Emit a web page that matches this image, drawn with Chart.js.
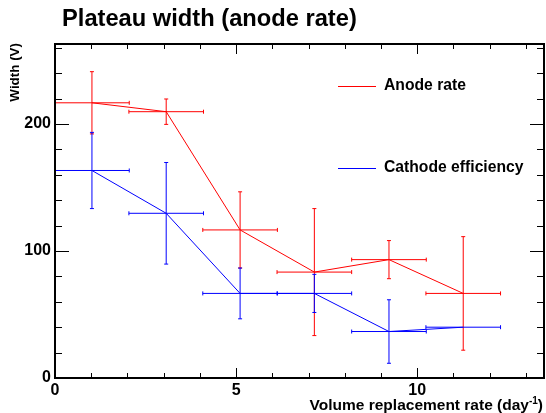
<!DOCTYPE html>
<html lang="en">
<head>
    <meta charset="UTF-8">
    <title>Plateau width (anode rate)</title>
    <script src="https://cdn.jsdelivr.net/npm/chart.js"></script>
    <style>
        body { margin: 0; background: #fff; }
        #wrap { width: 546px; height: 413px; position: relative; }
    </style>
</head>
<body>
    <div id="wrap"><canvas id="plateauChart"></canvas></div>
    <script>

        // Volume replacement rate bins (day^-1) and their half widths
        const rates = [1.02, 3.07, 5.11, 7.16, 9.22, 11.27];
        const rateErr = [1.03, 1.03, 1.03, 1.03, 1.03, 1.03];

        // Plateau widths (V) with errors
        const anodeWidth = [216.7, 209.7, 116.6, 83.4, 93.2, 66.6];
        const anodeErr = [24.5, 10, 30, 50, 15, 44.7];
        const cathodeWidth = [163.4, 129.7, 66.6, 66.6, 36.6, 40];
        const cathodeErr = [30, 40, 20, 15, 25, 0];

        const xMax = 13.5;
        const yMax = 263;
        const FONT = 'Liberation Sans, Arial, Helvetica, sans-serif';

        const series = [
            { label: 'Anode rate', color: '#ff0000', y: anodeWidth, ey: anodeErr },
            { label: 'Cathode efficiency', color: '#0000ff', y: cathodeWidth, ey: cathodeErr }
        ];

        // error bars, frame with inward ticks, titles and legend
        const rootStyle = {
            id: 'rootStyle',
            afterDatasetsDraw(chart) {
                const ctx = chart.ctx;
                const xs = chart.scales.x, ys = chart.scales.y;
                const a = chart.chartArea;
                ctx.save();
                ctx.lineWidth = 1;

                series.forEach(s => {
                    ctx.strokeStyle = s.color;
                    rates.forEach((r, i) => {
                        const px = xs.getPixelForValue(r);
                        const py = ys.getPixelForValue(s.y[i]);
                        const x0 = xs.getPixelForValue(r - rateErr[i]);
                        const x1 = xs.getPixelForValue(r + rateErr[i]);
                        ctx.beginPath();
                        ctx.moveTo(x0, py); ctx.lineTo(x1, py);
                        ctx.moveTo(x0, py - 2); ctx.lineTo(x0, py + 2);
                        ctx.moveTo(x1, py - 2); ctx.lineTo(x1, py + 2);
                        if (s.ey[i] > 0) {
                            const y0 = ys.getPixelForValue(s.y[i] - s.ey[i]);
                            const y1 = ys.getPixelForValue(s.y[i] + s.ey[i]);
                            ctx.moveTo(px, y0); ctx.lineTo(px, y1);
                            ctx.moveTo(px - 2, y0); ctx.lineTo(px + 2, y0);
                            ctx.moveTo(px - 2, y1); ctx.lineTo(px + 2, y1);
                        }
                        ctx.stroke();
                    });
                });

                // frame
                ctx.strokeStyle = '#000';
                ctx.lineWidth = 2;
                ctx.strokeRect(a.left, a.top, a.right - a.left, a.bottom - a.top);

                // ticks on all four sides, pointing inward
                ctx.lineWidth = 1;
                ctx.beginPath();
                for (let v = 0; v <= xMax; v += 1) {
                    const px = Math.round(xs.getPixelForValue(v)) + 0.5;
                    const len = v % 5 === 0 ? 10 : 5;
                    ctx.moveTo(px, a.bottom); ctx.lineTo(px, a.bottom - len);
                    ctx.moveTo(px, a.top); ctx.lineTo(px, a.top + len);
                }
                for (let v = 0; v <= yMax; v += 20) {
                    const py = Math.round(ys.getPixelForValue(v)) + 0.5;
                    const len = v % 100 === 0 ? 14 : 7;
                    ctx.moveTo(a.left, py); ctx.lineTo(a.left + len, py);
                    ctx.moveTo(a.right, py); ctx.lineTo(a.right - len, py);
                }
                ctx.stroke();

                // legend inside the frame
                const legendRows = [86, 168];
                series.forEach((s, i) => {
                    ctx.strokeStyle = s.color;
                    ctx.beginPath();
                    ctx.moveTo(338, legendRows[i] + 0.5);
                    ctx.lineTo(376, legendRows[i] + 0.5);
                    ctx.stroke();
                    ctx.fillStyle = '#000';
                    ctx.font = 'bold 15.7px ' + FONT;
                    ctx.textBaseline = 'middle';
                    ctx.textAlign = 'left';
                    ctx.fillText(s.label, 384, legendRows[i]);
                });

                // title
                ctx.fillStyle = '#000';
                ctx.font = 'bold 23.7px ' + FONT;
                ctx.textAlign = 'left';
                ctx.textBaseline = 'alphabetic';
                ctx.fillText('Plateau width (anode rate)', 62, 26);

                // x axis title with superscript, right aligned
                const head = 'Volume replacement rate (day';
                const sup = '-1', tail = ')';
                ctx.font = 'bold 10px ' + FONT;
                const wSup = ctx.measureText(sup).width;
                ctx.font = 'bold 15.5px ' + FONT;
                const wTail = ctx.measureText(tail).width;
                const wHead = ctx.measureText(head).width;
                const tx = 543 - wTail - wSup - wHead;
                ctx.fillText(head, tx, 409.5);
                ctx.fillText(tail, tx + wHead + wSup, 409.5);
                ctx.font = 'bold 10px ' + FONT;
                ctx.fillText(sup, tx + wHead, 404);

                // y axis title, aligned to the top of the frame
                ctx.save();
                ctx.font = 'bold 13.4px ' + FONT;
                ctx.translate(18.5, 43);
                ctx.rotate(-Math.PI / 2);
                ctx.textAlign = 'right';
                ctx.fillText('Width (V)', 0, 0);
                ctx.restore();

                ctx.restore();
            }
        };

        const ctx = document.getElementById('plateauChart').getContext('2d');
        new Chart(ctx, {
            type: 'scatter',
            data: {
                datasets: series.map(s => ({
                    label: s.label,
                    data: rates.map((r, i) => ({ x: r, y: s.y[i] })),
                    showLine: true,
                    borderColor: s.color,
                    borderWidth: 1,
                    pointRadius: 0,
                    tension: 0
                }))
            },
            options: {
                responsive: true,
                maintainAspectRatio: false,
                animation: false,
                layout: { padding: { top: 44, right: 2, left: 0, bottom: 0 } },
                plugins: {
                    legend: { display: false },
                    tooltip: { enabled: false }
                },
                scales: {
                    x: {
                        type: 'linear',
                        min: 0,
                        max: xMax,
                        grid: { display: false, drawTicks: false },
                        border: { display: false },
                        ticks: {
                            stepSize: 5,
                            padding: 3,
                            color: '#000',
                            font: { family: FONT, size: 16, weight: 'bold' }
                        },
                        afterBuildTicks: s => { s.ticks = s.ticks.filter(t => t.value % 5 === 0); },
                        afterFit: s => { s.height = 35; }
                    },
                    y: {
                        type: 'linear',
                        min: 0,
                        max: yMax,
                        grid: { display: false, drawTicks: false },
                        border: { display: false },
                        ticks: {
                            stepSize: 100,
                            padding: 4,
                            color: '#000',
                            font: { family: FONT, size: 16, weight: 'bold' }
                        },
                        afterBuildTicks: s => { s.ticks = s.ticks.filter(t => t.value % 100 === 0); },
                        afterFit: s => { s.width = 55; }
                    }
                }
            },
            plugins: [rootStyle]
        });
    </script>
</body>
</html>
